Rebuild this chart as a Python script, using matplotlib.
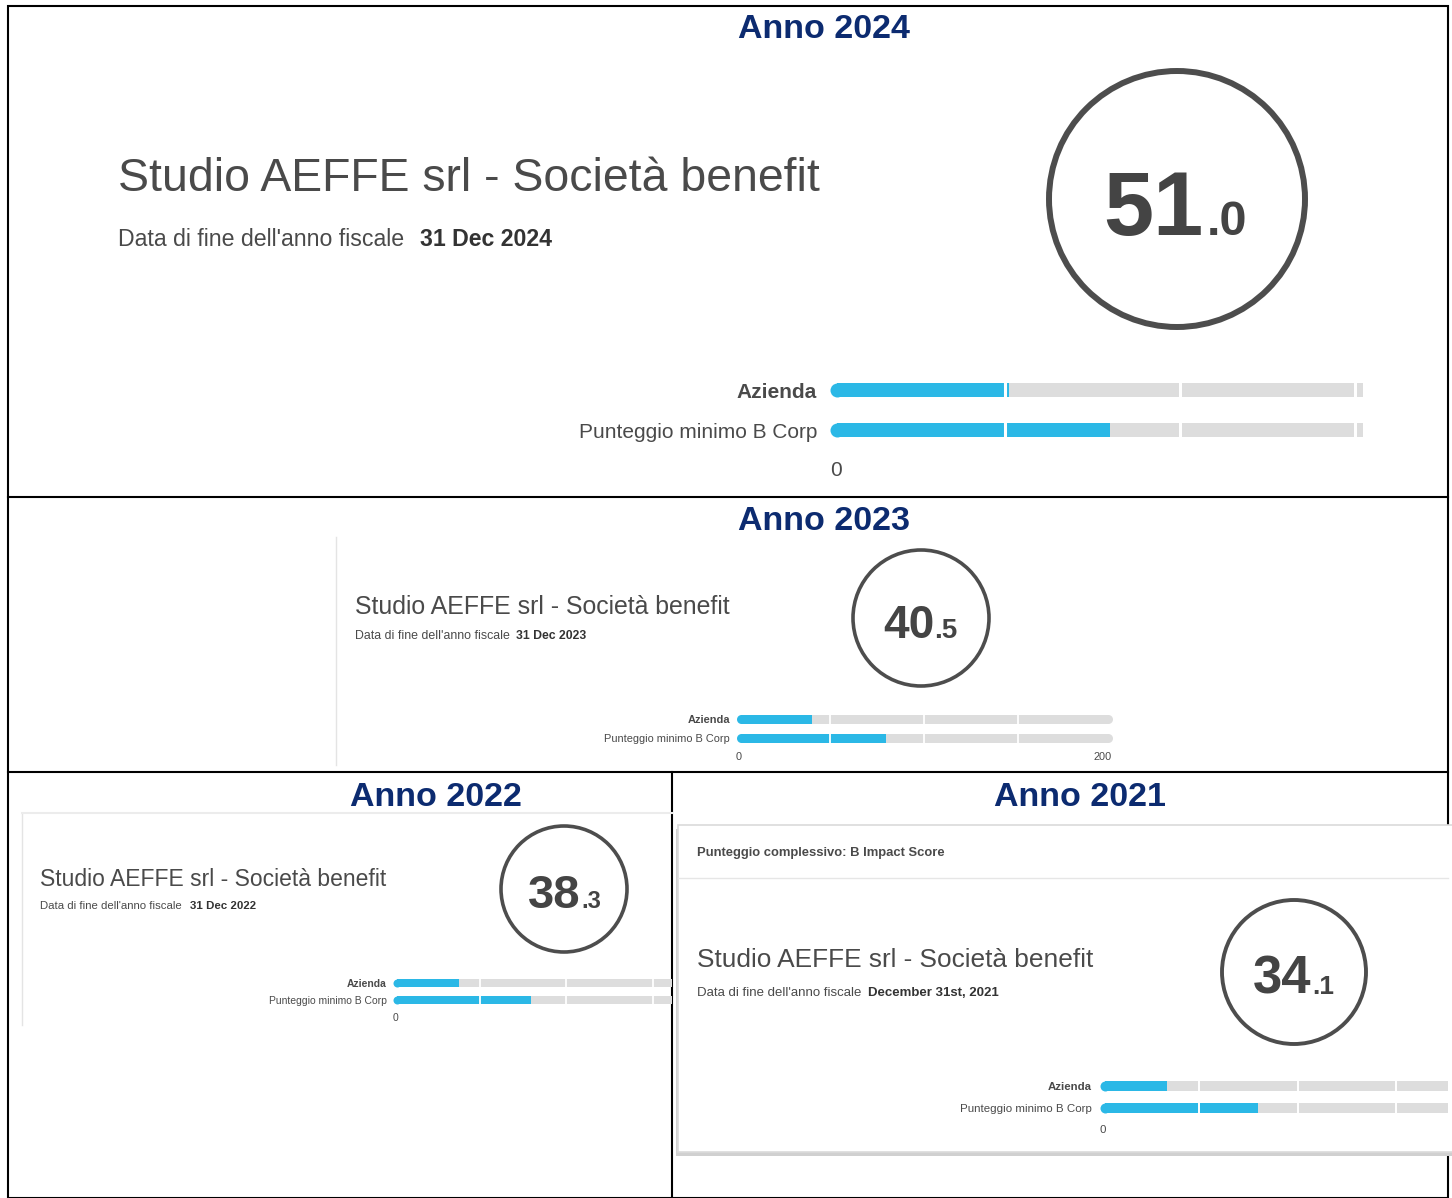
import matplotlib
matplotlib.use('Agg')
import matplotlib.pyplot as plt
from matplotlib.patches import Circle, Rectangle
import matplotlib.transforms as mtransforms

# --- dati ---
anni = ['2024', '2023', '2022', '2021']
punteggi = [51.0, 40.5, 38.3, 34.1]
minimo_bcorp = [80, 80, 80, 80]
date_fine = ['31 Dec 2024', '31 Dec 2023', '31 Dec 2022', 'December 31st, 2021']
categorie = ['Azienda', 'Punteggio minimo B Corp']
azienda = 'Studio AEFFE srl - Società benefit'
scala_max = 200
divisori = [50, 100, 150]

W, H = 1452, 1198
BLU = '#2bb8e6'
GRIGIO = '#dddddd'
TESTO = '#4a4a4a'
NAVY = '#0c2b70'
SANS = 'Liberation Sans'

fig = plt.figure(figsize=(W / 100, H / 100), dpi=100)
ax = fig.add_axes([0, 0, 1, 1])
ax.set_xlim(0, W)
ax.set_ylim(H, 0)
ax.axis('off')

# cornici
ax.add_patch(Rectangle((8, 6), 1440, 1192, fill=False, ec='black', lw=1.5))
ax.plot([8, 1448], [497, 497], color='black', lw=1.5)
ax.plot([8, 1448], [772, 772], color='black', lw=1.5)
ax.plot([672, 672], [772, 1198], color='black', lw=1.5)

# pannelli: layout in pixel
# nome: x, y, size ; data: x, y, size, x data bold, size bold
# num: x giunzione, baseline, size intero, size decimale, gap
# barre: x0, x1, px per unita', y Azienda, y B Corp, altezza, size etichette, pad, y "0", mostra 200, lw divisori
pannelli = [
    dict(titolo=(824, 30), nome=(118, 179, 33.4), data=(118, 240, 16.7, 420, 16.7),
         cerchio=(1177, 199, 128, 4.3), num=(1203, 235, 65, 35, 4),
         barre=(830, 1363, 3.5, 390, 430, 14, 15, 13, 470, False, 2.2)),
    dict(titolo=(824, 521), nome=(355, 607, 17.9), data=(355, 636, 8.9, 516, 8.8),
         cerchio=(921, 618, 68, 2.6), num=(934, 638, 33, 20, 0),
         barre=(736, 1112, 1.88, 719, 738, 9, 7.9, 6, 757, True, 1.3)),
    dict(titolo=(436, 797), nome=(40, 880, 16.5), data=(40, 906, 8.2, 190, 8.25),
         cerchio=(564, 889, 63, 2.6), num=(581, 908, 34, 17, 0),
         barre=(393, 672, 1.73, 983, 1000, 8, 7.45, 6, 1018, False, 1.3)),
    dict(titolo=(1080, 797), nome=(697, 960, 18.9), data=(697, 993, 9.5, 868, 9.5),
         cerchio=(1294, 972, 72, 2.8), num=(1311, 994, 38, 19, 1),
         barre=(1100, 1448, 1.975, 1086, 1108, 10, 8.25, 8, 1130, False, 1.4)),
]

# decorazioni schede
ax.plot([336, 336], [537, 765], color='#e4e4e4', lw=1)
ax.plot([22, 22], [813, 1025], color='#e4e4e4', lw=1)
ax.plot([22, 672], [813, 813], color='#ececec', lw=1.5)
ax.add_patch(Rectangle((676, 829), 780, 327, fc='#d0d0d0', ec='none'))
ax.add_patch(Rectangle((678, 825), 780, 327, fc='white', ec='#dadada', lw=1.2))
ax.plot([678, 1448], [878, 878], color='#e6e6e6', lw=1)
ax.text(697, 853, 'Punteggio complessivo: B Impact Score', fontsize=9.4,
        family=SANS, fontweight='bold', color=TESTO, va='center')


def barre(x0, x1, scala, ya, yb, hpx, fs, pad, y0lab, mostra200, lwdiv,
          punteggio, minimo):
    sp = yb - ya
    top, bottom = ya - sp / 2, yb + sp / 2
    bax = fig.add_axes([x0 / W, 1 - bottom / H, (x1 - x0) / W, (bottom - top) / H])
    vis = (x1 - x0) / scala
    bax.set_xlim(0, vis)
    bax.set_ylim(1.5, -0.5)
    hh = hpx / sp
    r = hpx / 2 / scala          # raggio del bordo arrotondato in unita' dati
    ms = hpx * 0.72              # diametro in punti
    chiuso = scala_max <= vis
    fine = scala_max - r if chiuso else scala_max
    bax.barh([0, 1], [fine - r, fine - r], left=r, height=hh, color=GRIGIO, lw=0)
    if chiuso:
        bax.plot([fine, fine], [0, 1], ls='none', marker='o', ms=ms,
                 color=GRIGIO, mew=0, clip_on=False)
    bax.barh([0, 1], [punteggio - r, minimo - r], left=r, height=hh, color=BLU, lw=0)
    bax.plot([r, r], [0, 1], ls='none', marker='o', ms=ms, color=BLU, mew=0,
             clip_on=False)
    for d in divisori:
        bax.plot([d, d], [-0.5, 1.5], color='white', lw=lwdiv)
    bax.set_yticks([0, 1], categorie)
    bax.tick_params(axis='y', length=0, pad=pad * 0.72, labelsize=fs, labelcolor=TESTO)
    bax.get_yticklabels()[0].set_fontweight('bold')
    bax.set_xticks([])
    for s in bax.spines.values():
        s.set_visible(False)
    bax.patch.set_alpha(0)
    tr = mtransforms.blended_transform_factory(bax.transData, bax.transAxes)
    yax = (bottom - y0lab) / (bottom - top)
    bax.text(0, yax, '0', transform=tr, fontsize=fs, color=TESTO,
             ha='left', va='center', clip_on=False)
    if mostra200:
        bax.text(scala_max, yax, str(scala_max), transform=tr, fontsize=fs,
                 color=TESTO, ha='right', va='center', clip_on=False)


plt.rcParams['font.family'] = SANS

for anno, p, mn, dt, pan in zip(anni, punteggi, minimo_bcorp, date_fine, pannelli):
    tx, ty = pan['titolo']
    ax.text(tx, ty, 'Anno ' + anno, fontsize=24.5, fontweight='bold', color=NAVY,
            ha='center', va='center')
    nx, ny, nfs = pan['nome']
    ax.text(nx, ny, azienda, fontsize=nfs, color=TESTO, va='center')
    dx, dy, dfs, dx2, bfs = pan['data']
    ax.text(dx, dy, "Data di fine dell'anno fiscale", fontsize=dfs, color=TESTO,
            va='center')
    ax.text(dx2, dy, dt, fontsize=bfs, color='#333333', fontweight='bold', va='center')
    cx, cy, r, lw = pan['cerchio']
    ax.add_patch(Circle((cx, cy), r, fill=False, ec='#4d4d4d', lw=lw))
    jx, by, ifs, sfs, gap = pan['num']
    intero, dec = f'{p:.1f}'.split('.')
    ax.text(jx, by, intero, fontsize=ifs, fontweight='bold', color='#444444',
            ha='right', va='baseline')
    ax.text(jx + gap, by, '.' + dec, fontsize=sfs, fontweight='bold', color='#444444',
            ha='left', va='baseline')
    barre(*pan['barre'], punteggio=p, minimo=mn)

fig.savefig('out.png', dpi=100)
